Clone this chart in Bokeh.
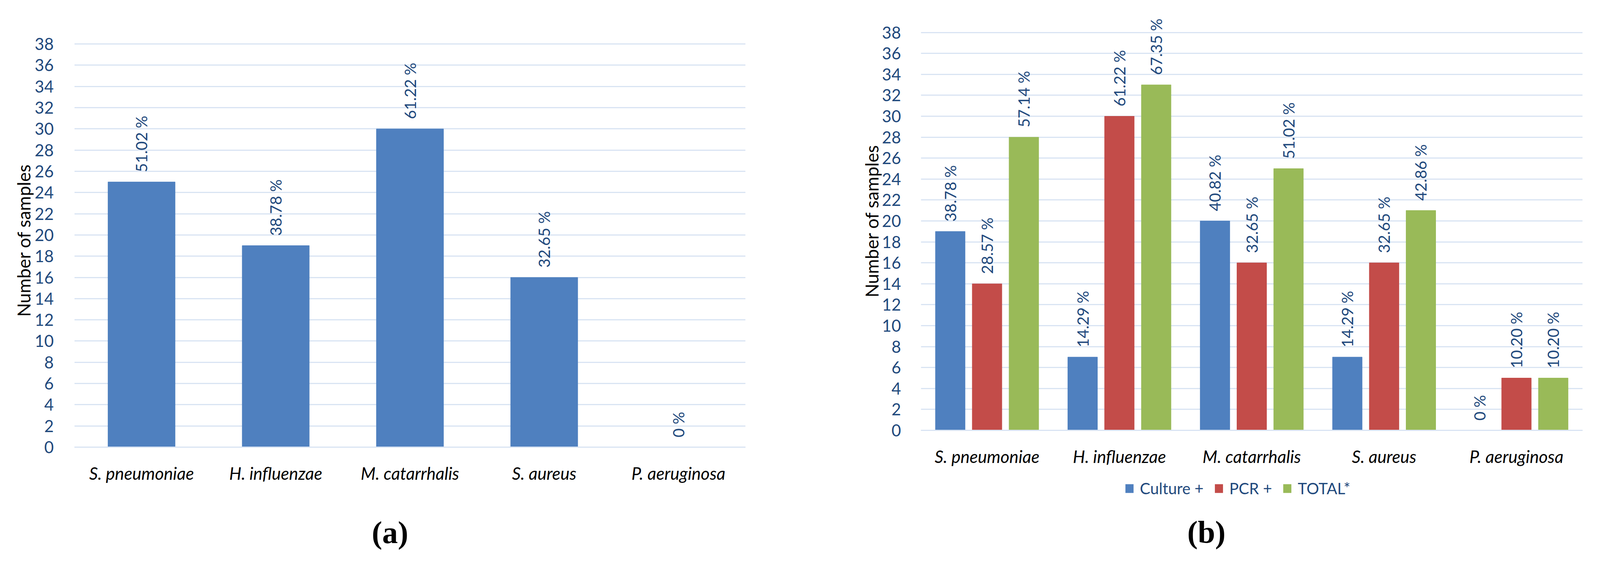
import math
from bokeh.plotting import figure
from bokeh.models import FactorRange, Range1d, FixedTicker, ColumnDataSource, Label, Legend, LegendItem
from bokeh.transform import dodge
from bokeh.layouts import row, column
from bokeh.core.properties import value
from bokeh.embed import file_html
from bokeh.resources import INLINE

# ---------------- data ----------------
species = ["S. pneumoniae", "H. influenzae", "M. catarrhalis", "S. aureus", "P. aeruginosa"]
y_ticks = [0, 2, 4, 6, 8, 10, 12, 14, 16, 18, 20, 22, 24, 26, 28, 30, 32, 34, 36, 38]

a_counts = [25, 19, 30, 16, 0]
a_labels = ["51.02 %", "38.78 %", "61.22 %", "32.65 %", "0 %"]

series_names = ["Culture +", "PCR +", "TOTAL*"]
b_culture = [19, 7, 20, 7, 0]
b_culture_labels = ["38.78 %", "14.29 %", "40.82 %", "14.29 %", "0 %"]
b_pcr = [14, 30, 16, 16, 5]
b_pcr_labels = ["28.57 %", "61.22 %", "32.65 %", "32.65 %", "10.20 %"]
b_total = [28, 33, 25, 21, 5]
b_total_labels = ["57.14 %", "67.35 %", "51.02 %", "42.86 %", "10.20 %"]

# ---------------- style ----------------
GRID = "#D9E4F3"
TICK_COLOR = "#1F497D"
BLUE = "#4F80BF"
RED = "#C34C49"
GREEN = "#99BA58"
UP_FONT = "Lato"


def style(p, left_standoff, label_standoff):
    p.outline_line_color = None
    p.background_fill_color = "white"
    p.border_fill_color = "white"
    p.xgrid.visible = False
    p.ygrid.grid_line_color = GRID
    p.ygrid.grid_line_width = 3
    p.yaxis.ticker = FixedTicker(ticks=y_ticks)
    p.yaxis.axis_line_color = None
    p.yaxis.major_tick_line_color = None
    p.yaxis.minor_tick_line_color = None
    p.yaxis.major_label_text_font = UP_FONT
    p.yaxis.major_label_text_font_size = "42px"
    p.yaxis.major_label_text_color = TICK_COLOR
    p.yaxis.major_label_standoff = left_standoff
    p.yaxis.axis_label = "Number of samples"
    p.yaxis.axis_label_text_font = UP_FONT
    p.yaxis.axis_label_text_font_style = "normal"
    p.yaxis.axis_label_text_font_size = "46px"
    p.yaxis.axis_label_text_color = "#000000"
    p.yaxis.axis_label_standoff = label_standoff
    p.xaxis.axis_line_color = GRID
    p.xaxis.axis_line_width = 3
    p.xaxis.major_tick_line_color = None
    p.xaxis.minor_tick_line_color = None
    p.xaxis.major_label_text_font = UP_FONT
    p.xaxis.major_label_text_font_style = "italic"
    p.xaxis.major_label_text_font_size = "44px"
    p.xaxis.major_label_text_color = "#000000"
    p.xaxis.major_label_standoff = 34


def data_labels(p, x, y, text, source):
    p.text(x=x, y=y, text=text, source=source, angle=math.pi / 2,
           text_align="left", text_baseline="middle", y_offset=-25,
           text_font=value(UP_FONT), text_font_size=value("40px"),
           text_color=TICK_COLOR)


def caption_fig(w, h):
    c = figure(x_range=Range1d(0, w), y_range=Range1d(0, h),
               frame_width=w, frame_height=h, output_backend="svg",
               toolbar_location=None, x_axis_type=None, y_axis_type=None,
               min_border_left=0, min_border_right=0, min_border_top=0, min_border_bottom=0)
    c.outline_line_color = None
    c.xgrid.visible = False
    c.ygrid.visible = False
    c.background_fill_color = "white"
    c.border_fill_color = "white"
    return c


def caption(text, x, y):
    return Label(x=x, y=y, x_units="screen", y_units="screen", text=text,
                 text_font="Liberation Serif", text_font_style="bold",
                 text_font_size="80px", text_align="center",
                 text_baseline="middle", text_color="#000000")


# ---------------- chart (a) ----------------
src_a = ColumnDataSource(dict(cat=species, count=a_counts, lab=a_labels))
pa = figure(x_range=FactorRange(factors=species, range_padding=0),
            y_range=Range1d(0, 39),
            frame_width=1718, frame_height=1059,
            output_backend="svg", toolbar_location=None,
            min_border_left=190, min_border_right=30,
            min_border_top=85, min_border_bottom=98)
style(pa, 47, -2)
pa.vbar(x="cat", top="count", width=0.5, source=src_a,
        fill_color=BLUE, line_color=BLUE)
data_labels(pa, "cat", "count", "lab", src_a)

ca = caption_fig(1938, 178)
ca.add_layout(caption("(a)", 998, 58))

# ---------------- chart (b) ----------------
src_b = ColumnDataSource(dict(cat=species, culture=b_culture, cl=b_culture_labels,
                              pcr=b_pcr, pl=b_pcr_labels,
                              total=b_total, tl=b_total_labels))
pb = figure(x_range=FactorRange(factors=species, range_padding=0),
            y_range=Range1d(0, 40),
            frame_width=1694, frame_height=1072,
            output_backend="svg", toolbar_location=None,
            min_border_left=419, min_border_right=20,
            min_border_top=29, min_border_bottom=116)
style(pb, 45, -4)

OFF = 0.278
BW = 0.224
pb.vbar(x=dodge("cat", -OFF, range=pb.x_range), top="culture", width=BW,
        source=src_b, fill_color=BLUE, line_color=BLUE)
pb.vbar(x=dodge("cat", 0, range=pb.x_range), top="pcr", width=BW,
        source=src_b, fill_color=RED, line_color=RED)
pb.vbar(x=dodge("cat", OFF, range=pb.x_range), top="total", width=BW,
        source=src_b, fill_color=GREEN, line_color=GREEN)
data_labels(pb, dodge("cat", -OFF, range=pb.x_range), "culture", "cl", src_b)
data_labels(pb, dodge("cat", 0, range=pb.x_range), "pcr", "pl", src_b)
data_labels(pb, dodge("cat", OFF, range=pb.x_range), "total", "tl", src_b)

cb = caption_fig(2133, 203)
# legend swatches: zero-size proxy renderers carrying the series colours
proxies = [cb.vbar(x=[0], top=[0], bottom=[0], width=0, fill_color=c, line_color=None)
           for c in (BLUE, RED, GREEN)]
legend = Legend(items=[LegendItem(label=n, renderers=[r]) for n, r in zip(series_names, proxies)],
                location=(940, 146), orientation="horizontal",
                glyph_width=26, glyph_height=28, label_standoff=14, spacing=26,
                padding=0, margin=0, border_line_color=None,
                background_fill_alpha=0, label_height=46,
                label_text_font=UP_FONT, label_text_font_size="40px",
                label_text_color=TICK_COLOR)
cb.add_layout(legend)
cb.add_layout(caption("(b)", 1150, 59))

layout = row(column(pa, row(ca)), column(pb, row(cb)))
open("out.html", "w").write(file_html(layout, INLINE))
